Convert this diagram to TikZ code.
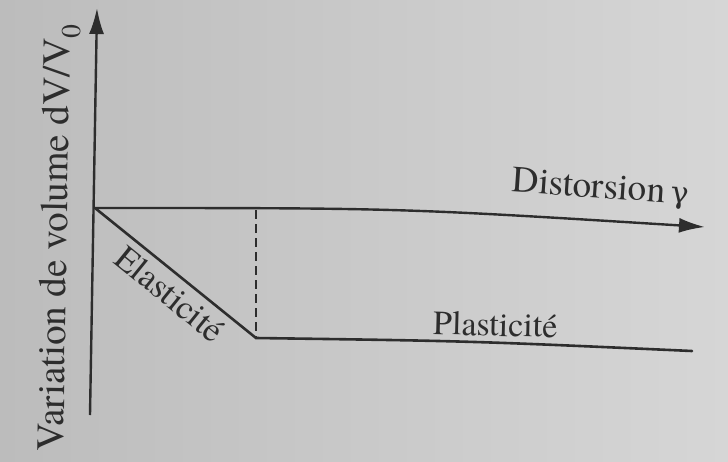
\documentclass[tikz,border=0pt]{standalone}
\usepackage{fontspec}
\setmainfont{texgyretermes}[Extension=.otf, UprightFont=*-regular, ItalicFont=*-italic, BoldFont=*-bold, BoldItalicFont=*-bolditalic]
\newfontfamily\dvserif{DejaVu Serif}
\usetikzlibrary{arrows.meta}
\definecolor{ink}{RGB}{45,45,45}
\definecolor{paperL}{RGB}{188,188,188}
\definecolor{paperR}{RGB}{214,214,214}
\tikzset{
  axis/.style={draw=ink, line width=2.4pt, -{Latex[length=26pt,width=15pt]}},
  curve/.style={draw=ink, line width=2.6pt, line cap=round},
  guide/.style={draw=ink, line width=2pt, dash pattern=on 9pt off 5pt},
  lbl/.style={text=ink, inner sep=0pt}
}
\begin{document}
\begin{tikzpicture}[x=1pt,y=-1pt]
  \useasboundingbox (0,0) rectangle (728,461);
  \shade[left color=paperL, right color=paperR] (0,0) rectangle (728,461);
  \coordinate (ybot) at (90,415);
  \coordinate (ytop) at (97,8);
  \coordinate (O) at (95,208);
  \coordinate (xtip) at (705,227);
  \coordinate (K) at (256,338);
  \coordinate (Dtop) at (256,210);
  \coordinate (Pend) at (692,351);
  \draw[axis] (ybot) -- (ytop);
  \draw[axis] (O) .. controls (400,208) .. (xtip);
  \draw[curve] (O) -- (K) .. controls (470,341) .. (Pend);
  \draw[guide] (Dtop) -- (K);
  \node[lbl, rotate=89, anchor=base, font=\fontsize{39}{44}\selectfont] (ylab) at (67,238) {Variation de volume dV/V\textsubscript{0}};
  \node[lbl, rotate=-4, anchor=base, font=\fontsize{37}{42}\selectfont] (xlab) at (600,198) {Distorsion\,{\dvserif\fontsize{30}{36}\selectfont γ}};
  \node[lbl, rotate=-1.5, anchor=base, font=\fontsize{34}{40}\selectfont] (plab) at (495,336) {Plasticité};
  \node[lbl, rotate=-39, font=\fontsize{35}{40}\selectfont] (elab) at (170,294) {Elasticité};
\end{tikzpicture}
\end{document}
